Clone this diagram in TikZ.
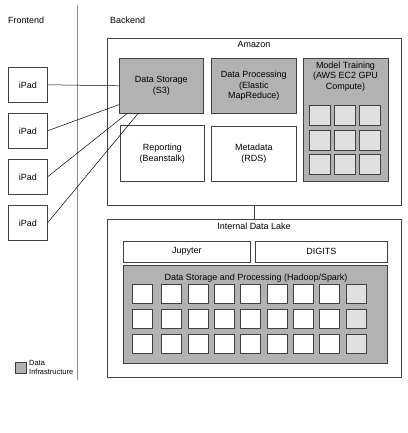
\documentclass[tikz,border=0pt]{standalone}
\usepackage{fontspec}
\setmainfont{Liberation Sans}
\begin{document}
\begin{tikzpicture}[x=1bp,y=-1bp,
  lbl/.style={font=\fontsize{9}{11}\selectfont, inner sep=0pt},
  boxw/.style={draw=black!75, line width=0.6pt, fill=white, inner sep=0pt, anchor=north west},
  boxg/.style={draw=black!75, line width=0.6pt, fill=black!30, inner sep=0pt, anchor=north west},
  cellw/.style={draw=black!75, line width=0.6pt, fill=white, inner sep=0pt, anchor=north west, minimum width=20bp, minimum height=19bp},
  celll/.style={draw=black!75, line width=0.6pt, fill=black!12, inner sep=0pt, anchor=north west, minimum width=20bp, minimum height=19bp},
  conn/.style={draw=black, line width=0.5pt},
  sep/.style={draw=black!45, line width=1pt}]
\useasboundingbox (0,0) rectangle (407,433);
% separator
\coordinate (septop) at (77.5,5);
\coordinate (sepbot) at (77.5,380);
\draw[sep] (septop) -- (sepbot);
% headings
\node[lbl, anchor=west] (fe) at (8,20) {Frontend};
\node[lbl, anchor=west] (be) at (110,20) {Backend};
% Amazon
\node[boxw, minimum width=294bp, minimum height=167bp] (amazon) at (107,38) {};
\node[lbl] (amazont) at (254,44) {Amazon};
\node[boxg, minimum width=84bp, minimum height=55bp] (ds) at (119,58) {};
\node[lbl, align=center] at (ds.center) {Data Storage\\(S3)};
\node[boxg, minimum width=85bp, minimum height=55bp] (dp) at (211,58) {};
\node[lbl, align=center, font=\fontsize{9}{10.8}\selectfont] at (dp.center) {Data Processing\\(Elastic\\MapReduce)};
\node[boxw, minimum width=84bp, minimum height=56bp] (rep) at (120,125) {};
\node[lbl, align=center] at (rep.center) {Reporting\\(Beanstalk)};
\node[boxw, minimum width=85bp, minimum height=55bp] (meta) at (211,126) {};
\node[lbl, align=center] at (meta.center) {Metadata\\(RDS)};
\node[boxg, minimum width=85bp, minimum height=123bp] (mt) at (303,58) {};
\node[lbl, align=center, font=\fontsize{9}{10.5}\selectfont] (mtt) at (345.5,76.5) {Model Training\\(AWS EC2 GPU\\Compute)};
\foreach \c/\x in {1/309,2/334,3/359}{
  \foreach \r/\y in {1/105,2/130,3/154}{
    \node[celll, minimum width=21bp, minimum height=20bp] (mt\c\r) at (\x,\y) {};
  }
}
% iPads
\foreach \i/\y in {1/67,2/113,3/159,4/205}{
  \node[boxw, minimum width=39bp, minimum height=35bp] (ipad\i) at (8,\y) {};
  \node[lbl] at (ipad\i.center) {iPad};
}
\draw[conn] (ipad1.east) -- (ds.west);
\draw[conn] (ipad2.east) -- (ds.204);
\draw[conn] (ipad3.east) -- (ds.219);
\draw[conn] (ipad4.east) -- (ds.230);
% Internal data lake
\node[boxw, minimum width=294bp, minimum height=158bp] (lake) at (107,219) {};
\draw[conn, draw=black!75] (amazon.south) -- (lake.north);
\node[lbl] (laket) at (254,226) {Internal Data Lake};
\node[boxw, minimum width=127bp, minimum height=21bp] (jup) at (123,241) {};
\node[lbl] at (jup.center) {Jupyter};
\node[boxw, minimum width=132bp, minimum height=21bp] (dig) at (255,241) {};
\node[lbl] at (dig.center) {DIGITS};
\node[boxg, minimum width=264bp, minimum height=98bp] (dsp) at (123,265) {};
\node[lbl] (dspt) at (256,278) {Data Storage and Processing (Hadoop/Spark)};
\foreach \c/\x in {1/132,2/161,3/188,4/214,5/240,6/267,7/293,8/319}{
  \foreach \r/\y in {1/284,2/309,3/334}{
    \node[cellw] (lc\c\r) at (\x,\y) {};
  }
}
\foreach \r/\y in {1/284,2/309,3/334}{
  \node[celll] (lc9\r) at (346,\y) {};
}
% legend
\node[boxg, minimum width=11bp, minimum height=11bp] (leg) at (15,362) {};
\node[font=\fontsize{7.5}{9}\selectfont, inner sep=0pt, align=left, anchor=west] (legt) at (29,367.5) {Data\\Infrastructure};
\end{tikzpicture}
\end{document}
